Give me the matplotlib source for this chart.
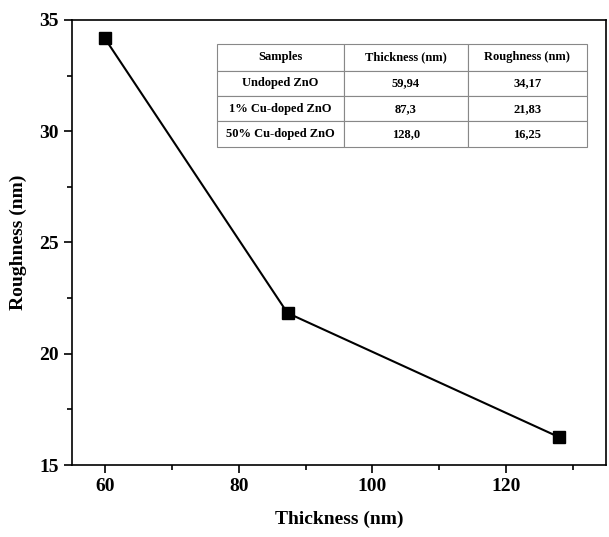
import matplotlib.pyplot as plt
from matplotlib.ticker import MultipleLocator

plt.rcParams['font.family'] = 'Liberation Serif'
plt.rcParams['font.weight'] = 'bold'

samples = ['Undoped ZnO', '1% Cu-doped ZnO', '50% Cu-doped ZnO']
thickness = [59.94, 87.3, 128.0]
roughness = [34.17, 21.83, 16.25]
thickness_txt = ['59,94', '87,3', '128,0']
roughness_txt = ['34,17', '21,83', '16,25']
headers = ['Samples', 'Thickness (nm)', 'Roughness (nm)']

fig = plt.figure(figsize=(6.09, 5.37), dpi=100)
ax = fig.add_axes([0.118, 0.134, 0.877, 0.829])

ax.plot(thickness, roughness, color='black', lw=1.5, marker='s', ms=9,
        mfc='black', mec='black')

ax.set_xlim(55, 135)
ax.set_ylim(15, 35)
ax.xaxis.set_major_locator(MultipleLocator(20))
ax.xaxis.set_minor_locator(MultipleLocator(10))
ax.yaxis.set_major_locator(MultipleLocator(5))
ax.yaxis.set_minor_locator(MultipleLocator(2.5))
ax.tick_params(which='both', direction='out', top=False, right=False,
               labelsize=14, width=1.2)
ax.tick_params(which='major', length=6)
ax.tick_params(which='minor', length=3.5)
for s in ax.spines.values():
    s.set_linewidth(1.2)
ax.set_xlabel('Thickness (nm)', fontsize=14, fontweight='bold', labelpad=11)
ax.set_ylabel('Roughness (nm)', fontsize=14, fontweight='bold', labelpad=9)

rows = [[samples[i], thickness_txt[i], roughness_txt[i]] for i in range(3)]
tbl = ax.table(cellText=rows, colLabels=headers, cellLoc='center',
               bbox=[0.272, 0.715, 0.692, 0.231],
               colWidths=[127, 124, 119])
tbl.auto_set_font_size(False)
for (r, c), cell in tbl.get_celld().items():
    cell.set_height(27 if r == 0 else 25.5)
    cell.set_edgecolor('#888888')
    cell.set_linewidth(0.8)
    cell.get_text().set_fontsize(9)
    cell.get_text().set_fontweight('bold')
fig.savefig('out.png', dpi=100)
